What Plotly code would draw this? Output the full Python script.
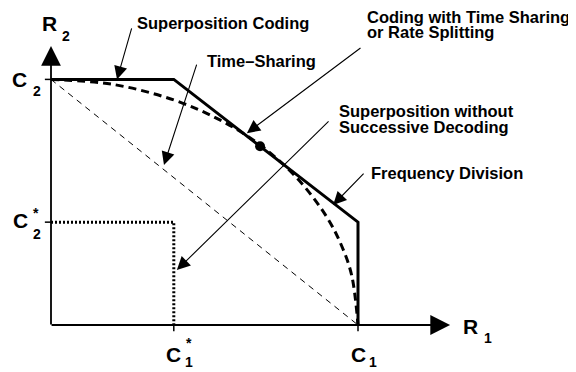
import plotly.graph_objects as go

# capacity values (same scale on both axes)
C1 = 1.0
C2 = 0.8
C1_star = 0.40
C2_star = 0.335

# superposition coding region boundary
sc_r1 = [0.0, 0.40, 1.0, 1.0]
sc_r2 = [0.8, 0.80, 0.335, 0.0]

# frequency division boundary
fd_r1 = [0.0, 0.2, 0.4, 0.55, 0.68, 0.8, 0.9, 0.95, 0.98, 1.0]
fd_r2 = [0.8, 0.784, 0.733, 0.668, 0.587, 0.48, 0.349, 0.25, 0.159, 0.0]

# time sharing line
ts_r1 = [0.0, 1.0]
ts_r2 = [0.8, 0.0]

# superposition without successive decoding
sw_r1 = [0.0, 0.40, 0.40]
sw_r2 = [0.335, 0.335, 0.0]

# rate splitting point
rs_r1 = [0.681]
rs_r2 = [0.582]

FONT = "Liberation Sans, Arial, sans-serif"

fig = go.Figure()
fig.add_trace(go.Scatter(x=ts_r1, y=ts_r2, mode="lines",
                         line=dict(color="black", width=1, dash="6px,5px")))
fig.add_trace(go.Scatter(x=fd_r1, y=fd_r2, mode="lines", line_shape="spline",
                         line=dict(color="black", width=3, dash="8px,5px")))
fig.add_trace(go.Scatter(x=sw_r1, y=sw_r2, mode="lines",
                         line=dict(color="black", width=3, dash="2px,2px")))
fig.add_trace(go.Scatter(x=sc_r1, y=sc_r2, mode="lines",
                         line=dict(color="black", width=3)))
fig.add_trace(go.Scatter(x=rs_r1, y=rs_r2, mode="markers",
                         marker=dict(color="black", size=10)))

# axes with arrows
fig.add_annotation(x=1.30, y=0, ax=-0.003, ay=0, axref="x", ayref="y", text="",
                   showarrow=True, arrowhead=2, arrowsize=2.2, arrowwidth=1.8,
                   arrowcolor="black")
fig.add_annotation(x=0, y=0.909, ax=0, ay=-0.003, axref="x", ayref="y", text="",
                   showarrow=True, arrowhead=2, arrowsize=2.2, arrowwidth=1.8,
                   arrowcolor="black")

# tick marks
for t in [C1, C1_star]:
    fig.add_shape(type="line", x0=t, x1=t, y0=0, y1=-0.02,
                  line=dict(color="black", width=1.5))
for t in [C2, C2_star]:
    fig.add_shape(type="line", y0=t, y1=t, x0=0, x1=-0.02,
                  line=dict(color="black", width=1.5))

# pointer arrows (tip x,y ; tail ax,ay)
arrows = [
    (0.215, 0.80, 0.264, 0.971),
    (0.368, 0.521, 0.476, 0.853),
    (0.638, 0.625, 1.013, 0.906),
    (0.410, 0.179, 0.909, 0.668),
    (0.919, 0.391, 1.023, 0.498),
]
for x, y, ax, ay in arrows:
    fig.add_annotation(x=x, y=y, ax=ax, ay=ay, axref="x", ayref="y", text="",
                       showarrow=True, arrowhead=2, arrowsize=2.4, arrowwidth=1.1,
                       arrowcolor="black")

# descriptive text
notes = [
    ("Superposition Coding", 0.274, 0.984),
    ("Time\u2013Sharing", 0.502, 0.860),
    ("Coding with Time Sharing", 1.022, 1.003),
    ("or Rate Splitting", 1.022, 0.953),
    ("Superposition without", 0.932, 0.697),
    ("Successive Decoding", 0.932, 0.645),
    ("Frequency Division", 1.037, 0.495),
]
for txt, x, y in notes:
    fig.add_annotation(x=x, y=y, text=txt, showarrow=False, xanchor="left",
                       yanchor="middle",
                       font=dict(family=FONT, size=16.5, color="black", weight="bold"))

# axis / value labels
big = dict(family=FONT, size=21, color="black", weight="bold")
small = dict(family=FONT, size=14, color="black", weight="bold")
labels = [
    ("R", -0.005, 0.982, big), ("2", 0.05, 0.94, small),
    ("R", 1.366, -0.005, big), ("1", 1.422, -0.042, small),
    ("C", -0.103, 0.80, big), ("2", -0.044, 0.762, small),
    ("C", -0.098, 0.339, big), ("*", -0.05, 0.365, small), ("2", -0.044, 0.296, small),
    ("C", 0.40, -0.095, big), ("*", 0.448, -0.06, small), ("1", 0.448, -0.122, small),
    ("C", 1.003, -0.095, big), ("1", 1.05, -0.119, small),
]
for txt, x, y, f in labels:
    fig.add_annotation(x=x, y=y, text=txt, showarrow=False, xanchor="center",
                       yanchor="middle", font=f)

# the page body has an 8px margin, so the ranges are shifted by 8px
fig.update_layout(
    width=576, height=372,
    margin=dict(l=0, r=0, t=0, b=0),
    plot_bgcolor="white", paper_bgcolor="white",
    showlegend=False,
    xaxis=dict(range=[-43 / 307, 533 / 307], visible=False, fixedrange=True),
    yaxis=dict(range=[-55 / 307, 317 / 307], visible=False, fixedrange=True),
)

fig.write_html("out.html")
